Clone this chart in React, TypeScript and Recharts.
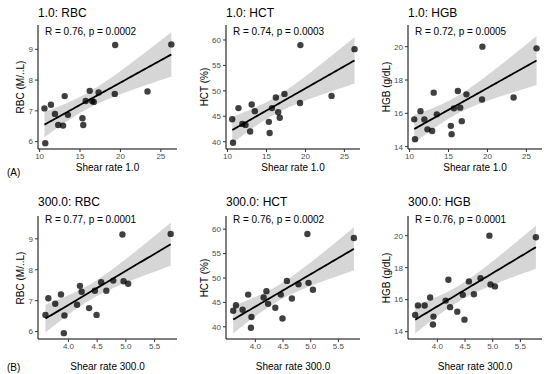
import React from "react";
import { ComposedChart, Scatter, Line, Area, XAxis, YAxis } from "recharts";

// one entry per subject
const shear1 = [10.7, 10.6, 11.4, 11.9, 12.3, 12.9, 13.1, 13.5, 15.3, 15.4, 15.7, 16.2, 16.5, 16.7, 17.3, 19.35, 19.3, 23.35, 26.3];
const shear300 = [3.92, 3.65, 3.87, 3.77, 3.6, 3.93, 4.2, 4.15, 4.36, 4.49, 4.46, 4.78, 4.66, 4.23, 4.57, 4.94, 5.04, 4.96, 5.78];
const rbc = [5.95, 7.08, 7.2, 6.9, 6.54, 6.52, 7.48, 6.87, 6.76, 6.54, 7.32, 7.65, 7.32, 7.29, 7.6, 9.14, 7.55, 7.63, 9.16];
const hct = [39.8, 44.4, 46.6, 43.5, 43.3, 42.0, 47.3, 46.0, 43.9, 41.7, 46.6, 48.7, 45.8, 44.7, 49.4, 59.0, 47.6, 49.0, 58.2];
const hgb = [14.45, 15.64, 16.13, 15.63, 15.04, 14.94, 17.24, 15.94, 15.25, 14.75, 16.3, 17.34, 16.34, 15.53, 17.14, 20.0, 16.83, 16.95, 19.9];

const ticks1 = [10, 15, 20, 25];
const ticks300 = [4.0, 4.5, 5.0, 5.5];
const rbcTicks = [6, 7, 8, 9];
const hctTicks = [40, 45, 50, 55, 60];
const hgbTicks = [14, 16, 18, 20];

const corrLabels = [
  "R = 0.76, p = 0.0002",
  "R = 0.74, p = 0.0003",
  "R = 0.72, p = 0.0005",
  "R = 0.77, p = 0.0001",
  "R = 0.76, p = 0.0002",
  "R = 0.76, p = 0.0001",
];

const T95 = 2.1098; // t quantile, df = 17

function lmBand(xs: number[], ys: number[]) {
  const n = xs.length;
  const mx = xs.reduce((a, b) => a + b, 0) / n;
  const my = ys.reduce((a, b) => a + b, 0) / n;
  let sxx = 0;
  let sxy = 0;
  for (let i = 0; i < n; i++) {
    sxx += (xs[i] - mx) ** 2;
    sxy += (xs[i] - mx) * (ys[i] - my);
  }
  const b = sxy / sxx;
  const a = my - b * mx;
  let sse = 0;
  for (let i = 0; i < n; i++) sse += (ys[i] - a - b * xs[i]) ** 2;
  const s = Math.sqrt(sse / (n - 2));
  const lo = Math.min(...xs);
  const hi = Math.max(...xs);
  const rows = [];
  for (let k = 0; k <= 60; k++) {
    const x = lo + ((hi - lo) * k) / 60;
    const f = a + b * x;
    const se = s * Math.sqrt(1 / n + (x - mx) ** 2 / sxx);
    rows.push({ x, fit: f, band: [f - T95 * se, f + T95 * se] });
  }
  return rows;
}

const cols = [
  { left: 38, right: 177, yTitle: 21 },
  { left: 226, right: 360, yTitle: 204.5 },
  { left: 408, right: 542, yTitle: 387 },
];
const rows = [
  { top: 25, bottom: 149, titleY: 13, rY: 31.5, xTitleY: 168 },
  { top: 216, bottom: 339, titleY: 201.5, rY: 220, xTitleY: 367 },
];

const YW = 30;
const XH = 20;
const PAD = 6;

const font = "'Liberation Sans', Arial, sans-serif";
const tickStyle = { fontSize: 8, fill: "#4d4d4d" };

type PanelProps = {
  xs: number[];
  ys: number[];
  xDomain: [number, number];
  yDomain: [number, number];
  xTicks: number[];
  yTicks: number[];
  xFmt: (v: number) => string;
  col: number;
  row: number;
  title: string;
  rLabel: string;
  xLabel: string;
  yLabel: string;
};

function Panel(p: PanelProps) {
  const c = cols[p.col];
  const r = rows[p.row];
  const w = c.right - c.left;
  const h = r.bottom - r.top;
  const band = lmBand(p.xs, p.ys);
  const pts = p.xs.map((x, i) => ({ x, y: p.ys[i] }));
  return (
    <>
      <div style={{ position: "absolute", left: c.left - YW, top: r.top - PAD }}>
        <ComposedChart
          width={YW + w + PAD}
          height={PAD + h + XH}
          data={band}
          margin={{ top: PAD, right: PAD, bottom: 0, left: 0 }}
        >
          <XAxis
            type="number"
            dataKey="x"
            domain={p.xDomain}
            ticks={p.xTicks}
            tickFormatter={p.xFmt}
            allowDataOverflow
            height={XH}
            tick={tickStyle}
            tickSize={3}
            tickMargin={1}
            tickLine={{ stroke: "#333" }}
            axisLine={{ stroke: "#000" }}
          />
          <YAxis
            type="number"
            domain={p.yDomain}
            ticks={p.yTicks}
            allowDataOverflow
            width={YW}
            tick={tickStyle}
            tickSize={3}
            tickMargin={2}
            tickLine={{ stroke: "#333" }}
            axisLine={{ stroke: "#000" }}
          />
          <Scatter
            data={pts}
            dataKey="y"
            isAnimationActive={false}
            shape={(s: any) => <circle cx={s.cx} cy={s.cy} r={3.2} fill="#000" fillOpacity={0.75} />}
          />
          <Area
            dataKey="band"
            type="linear"
            stroke="none"
            fill="#999999"
            fillOpacity={0.4}
            isAnimationActive={false}
            activeDot={false}
          />
          <Line
            dataKey="fit"
            type="linear"
            stroke="#000"
            strokeWidth={1.8}
            dot={false}
            activeDot={false}
            isAnimationActive={false}
          />
        </ComposedChart>
      </div>
      <div style={{ position: "absolute", left: c.left, top: r.titleY - 7, fontSize: 12, lineHeight: "14px", whiteSpace: "nowrap" }}>
        {p.title}
      </div>
      <div style={{ position: "absolute", left: c.left + 7, top: r.rY - 6, fontSize: 10, lineHeight: "12px", whiteSpace: "nowrap" }}>
        {p.rLabel}
      </div>
      <div
        style={{
          position: "absolute",
          left: c.left,
          width: w,
          top: r.xTitleY - 6,
          fontSize: 10,
          lineHeight: "12px",
          textAlign: "center",
          whiteSpace: "nowrap",
        }}
      >
        {p.xLabel}
      </div>
      <div
        style={{
          position: "absolute",
          left: c.yTitle - 50,
          width: 100,
          top: (r.top + r.bottom) / 2 - 6,
          fontSize: 10,
          lineHeight: "12px",
          textAlign: "center",
          whiteSpace: "nowrap",
          transform: "rotate(-90deg)",
        }}
      >
        {p.yLabel}
      </div>
    </>
  );
}

const fmt0 = (v: number) => String(v);
const fmt1 = (v: number) => v.toFixed(1);

export default function App() {
  const d1: [number, number] = [9.8, 27.0];
  const d300: [number, number] = [3.47, 5.89];
  return (
    <div
      style={{
        position: "absolute",
        left: 0,
        top: 0,
        width: 550,
        height: 374,
        background: "#fff",
        fontFamily: font,
        color: "#000",
        overflow: "hidden",
      }}
    >
      <Panel xs={shear1} ys={rbc} xDomain={d1} yDomain={[5.76, 9.79]} xTicks={ticks1} yTicks={rbcTicks} xFmt={fmt0}
        col={0} row={0} title="1.0: RBC" rLabel={corrLabels[0]} xLabel="Shear rate 1.0" yLabel="RBC (M/..L)" />
      <Panel xs={shear1} ys={hct} xDomain={d1} yDomain={[38.56, 62.95]} xTicks={ticks1} yTicks={hctTicks} xFmt={fmt0}
        col={1} row={0} title="1.0: HCT" rLabel={corrLabels[1]} xLabel="Shear rate 1.0" yLabel="HCT (%)" />
      <Panel xs={shear1} ys={hgb} xDomain={d1} yDomain={[13.86, 21.3]} xTicks={ticks1} yTicks={hgbTicks} xFmt={fmt0}
        col={2} row={0} title="1.0: HGB" rLabel={corrLabels[2]} xLabel="Shear rate 1.0" yLabel="HGB (g/dL)" />
      <Panel xs={shear300} ys={rbc} xDomain={d300} yDomain={[5.76, 9.74]} xTicks={ticks300} yTicks={rbcTicks} xFmt={fmt1}
        col={0} row={1} title="300.0: RBC" rLabel={corrLabels[3]} xLabel="Shear rate 300.0" yLabel="RBC (M/..L)" />
      <Panel xs={shear300} ys={hct} xDomain={d300} yDomain={[37.5, 62.7]} xTicks={ticks300} yTicks={hctTicks} xFmt={fmt1}
        col={1} row={1} title="300.0: HCT" rLabel={corrLabels[4]} xLabel="Shear rate 300.0" yLabel="HCT (%)" />
      <Panel xs={shear300} ys={hgb} xDomain={d300} yDomain={[13.54, 21.23]} xTicks={ticks300} yTicks={hgbTicks} xFmt={fmt1}
        col={2} row={1} title="300.0: HGB" rLabel={corrLabels[5]} xLabel="Shear rate 300.0" yLabel="HGB (g/dL)" />
      <div style={{ position: "absolute", left: 7, top: 167, fontSize: 10, lineHeight: "12px" }}>(A)</div>
      <div style={{ position: "absolute", left: 7, top: 361.5, fontSize: 10, lineHeight: "12px" }}>(B)</div>
    </div>
  );
}
